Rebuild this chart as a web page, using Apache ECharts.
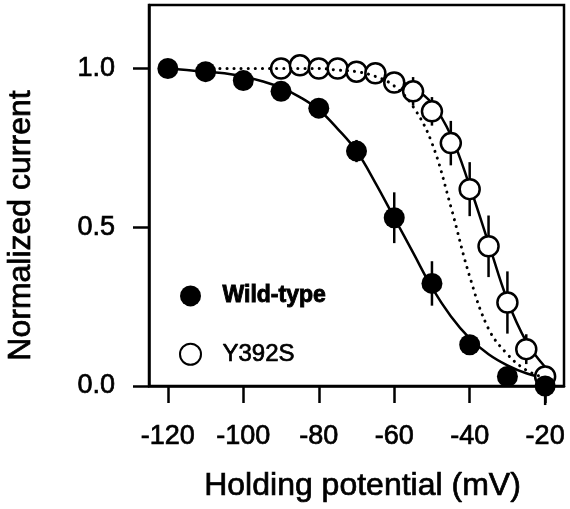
<!DOCTYPE html>
<html>
<head>
<meta charset="utf-8">
<script src="https://cdn.jsdelivr.net/npm/echarts@6/dist/echarts.min.js"></script>
<style>
  html, body { margin: 0; padding: 0; background: #fff; }
  #chart { width: 570px; height: 509px; }
</style>
</head>
<body>
<div id="chart"></div>
<script>
// measured points (holding potential mV, normalized current, error)
const wtV = [-120, -110, -100, -90, -80, -70, -60, -50, -40, -30, -20]
const wtI = [1.0, 0.99, 0.962, 0.928, 0.875, 0.74, 0.53, 0.323, 0.13, 0.03, 0.0]
const wtErr = [0, 0, 0.01, 0.01, 0.015, 0.035, 0.08, 0.07, 0.02, 0.015, 0.06]

const mutV = [-90, -85, -80, -75, -70, -65, -60, -55, -50, -45, -40, -35, -30, -25, -20]
const mutI = [1.0, 1.01, 1.0, 1.0, 0.99, 0.985, 0.956, 0.928, 0.865, 0.765, 0.62, 0.44, 0.263, 0.116, 0.03]
const mutErr = [0, 0, 0, 0, 0, 0, 0.01, 0.045, 0.045, 0.07, 0.085, 0.097, 0.098, 0.047, 0.02]

// fitted curves
const wtFitV = [-120, -115, -110, -105, -100, -95, -90, -85, -80, -75, -70, -65, -60, -55, -50, -45, -40, -35, -30, -25, -20]
const wtFitI = [1.0, 0.995, 0.99, 0.985, 0.975, 0.96, 0.94, 0.91, 0.87, 0.81, 0.74, 0.64, 0.53, 0.42, 0.31, 0.22, 0.15, 0.10, 0.065, 0.04, 0.025]

const mutFitV = [-90, -85, -80, -75, -70, -65, -60, -55, -50, -45, -40, -35, -30, -25, -20]
const mutFitI = [1.0, 1.0, 0.998, 0.995, 0.99, 0.98, 0.965, 0.94, 0.89, 0.79, 0.63, 0.45, 0.27, 0.14, 0.06]

const dotFitV = [-110, -105, -100, -95, -90, -85, -80, -75, -70, -65, -60, -55, -50, -45, -40, -35, -30, -25, -20, -17]
const dotFitI = [1.0, 1.0, 1.0, 1.0, 1.0, 1.0, 1.0, 0.995, 0.99, 0.975, 0.945, 0.88, 0.765, 0.565, 0.345, 0.18, 0.10, 0.05, 0.025, 0.015]

const xTicks = [-120, -100, -80, -60, -40, -20]
const yTicks = [0, 0.5, 1.0]

const font = 'Liberation Sans'
// scanned text is a bit heavier than plain regular
const ink = { color: '#000', textBorderColor: '#000', textBorderWidth: 0.7 }
const zip = (a, b) => a.map((v, i) => [v, b[i]])

const errBars = (vs, is, es) => ({
  type: 'custom',
  z: 1,
  silent: true,
  data: vs.map((v, i) => [v, is[i], es[i]]),
  renderItem: (params, api) => {
    const x = api.value(0), y = api.value(1), e = api.value(2)
    const p1 = api.coord([x, y + e])
    const p2 = api.coord([x, y - e])
    return {
      type: 'line',
      shape: { x1: p1[0], y1: p1[1], x2: p2[0], y2: p2[1] },
      style: { stroke: '#000', lineWidth: 2.5 }
    }
  }
})

const chart = echarts.init(document.getElementById('chart'))

chart.setOption({
  animation: false,
  grid: {
    left: 149, right: 6, top: 5, bottom: 123,
    outerBoundsMode: 'none',
    containLabel: false,
    show: true, borderColor: '#000', borderWidth: 2.5
  },
  legend: {
    orient: 'vertical',
    left: 174,
    top: 279,
    itemWidth: 54,
    itemHeight: 21,
    itemGap: 34,
    textStyle: { fontFamily: font, fontSize: 24, ...ink },
    data: [
      { name: 'Wild-type', textStyle: { fontWeight: 'bold', fontSize: 23, textBorderWidth: 0.9 } },
      { name: 'Y392S' }
    ]
  },
  xAxis: {
    type: 'value',
    min: -125,
    max: -15,
    name: 'Holding potential (mV)',
    nameLocation: 'middle',
    nameGap: 84,
    nameTextStyle: { fontFamily: font, fontSize: 32, padding: [0, 0, 0, 12], ...ink },
    splitLine: { show: false },
    axisLine: { lineStyle: { color: '#000', width: 2.5 } },
    axisTick: { customValues: xTicks, length: 17, lineStyle: { color: '#000', width: 2.5 } },
    axisLabel: {
      customValues: xTicks,
      margin: 37,
      fontFamily: font,
      fontSize: 27,
      ...ink
    }
  },
  yAxis: {
    type: 'value',
    min: 0,
    max: 1.2,
    name: 'Normalized current',
    nameLocation: 'middle',
    nameGap: 112,
    nameTextStyle: { fontFamily: font, fontSize: 32, padding: [0, 60, 0, 0], ...ink },
    splitLine: { show: false },
    axisLine: { lineStyle: { color: '#000', width: 2.5 } },
    axisTick: { customValues: yTicks, length: 16, lineStyle: { color: '#000', width: 2.5 } },
    axisLabel: {
      customValues: yTicks,
      margin: 34,
      fontFamily: font,
      fontSize: 27,
      ...ink,
      formatter: v => v.toFixed(1)
    }
  },
  series: [
    errBars(wtV, wtI, wtErr),
    errBars(mutV, mutI, mutErr),
    {
      name: 'wt fit',
      type: 'line',
      z: 2,
      smooth: 0.4,
      symbol: 'none',
      data: zip(wtFitV, wtFitI),
      lineStyle: { color: '#000', width: 2.5 }
    },
    {
      name: 'mut fit',
      type: 'line',
      z: 2,
      smooth: 0.4,
      symbol: 'none',
      data: zip(mutFitV, mutFitI),
      lineStyle: { color: '#000', width: 2.5 }
    },
    {
      name: 'Y392S',
      type: 'scatter',
      z: 3,
      symbol: 'circle',
      symbolSize: 20,
      data: zip(mutV, mutI),
      itemStyle: { color: '#fff', borderColor: '#000', borderWidth: 2.5, opacity: 1 }
    },
    {
      name: 'wt shifted fit',
      type: 'line',
      z: 4,
      smooth: 0.4,
      symbol: 'none',
      data: zip(dotFitV, dotFitI),
      lineStyle: { color: '#000', width: 3, type: [0.1, 7], cap: 'round' }
    },
    {
      name: 'Wild-type',
      type: 'scatter',
      z: 5,
      symbol: 'circle',
      symbolSize: 21,
      data: zip(wtV, wtI),
      itemStyle: { color: '#000', opacity: 1 }
    }
  ]
})
</script>
</body>
</html>
